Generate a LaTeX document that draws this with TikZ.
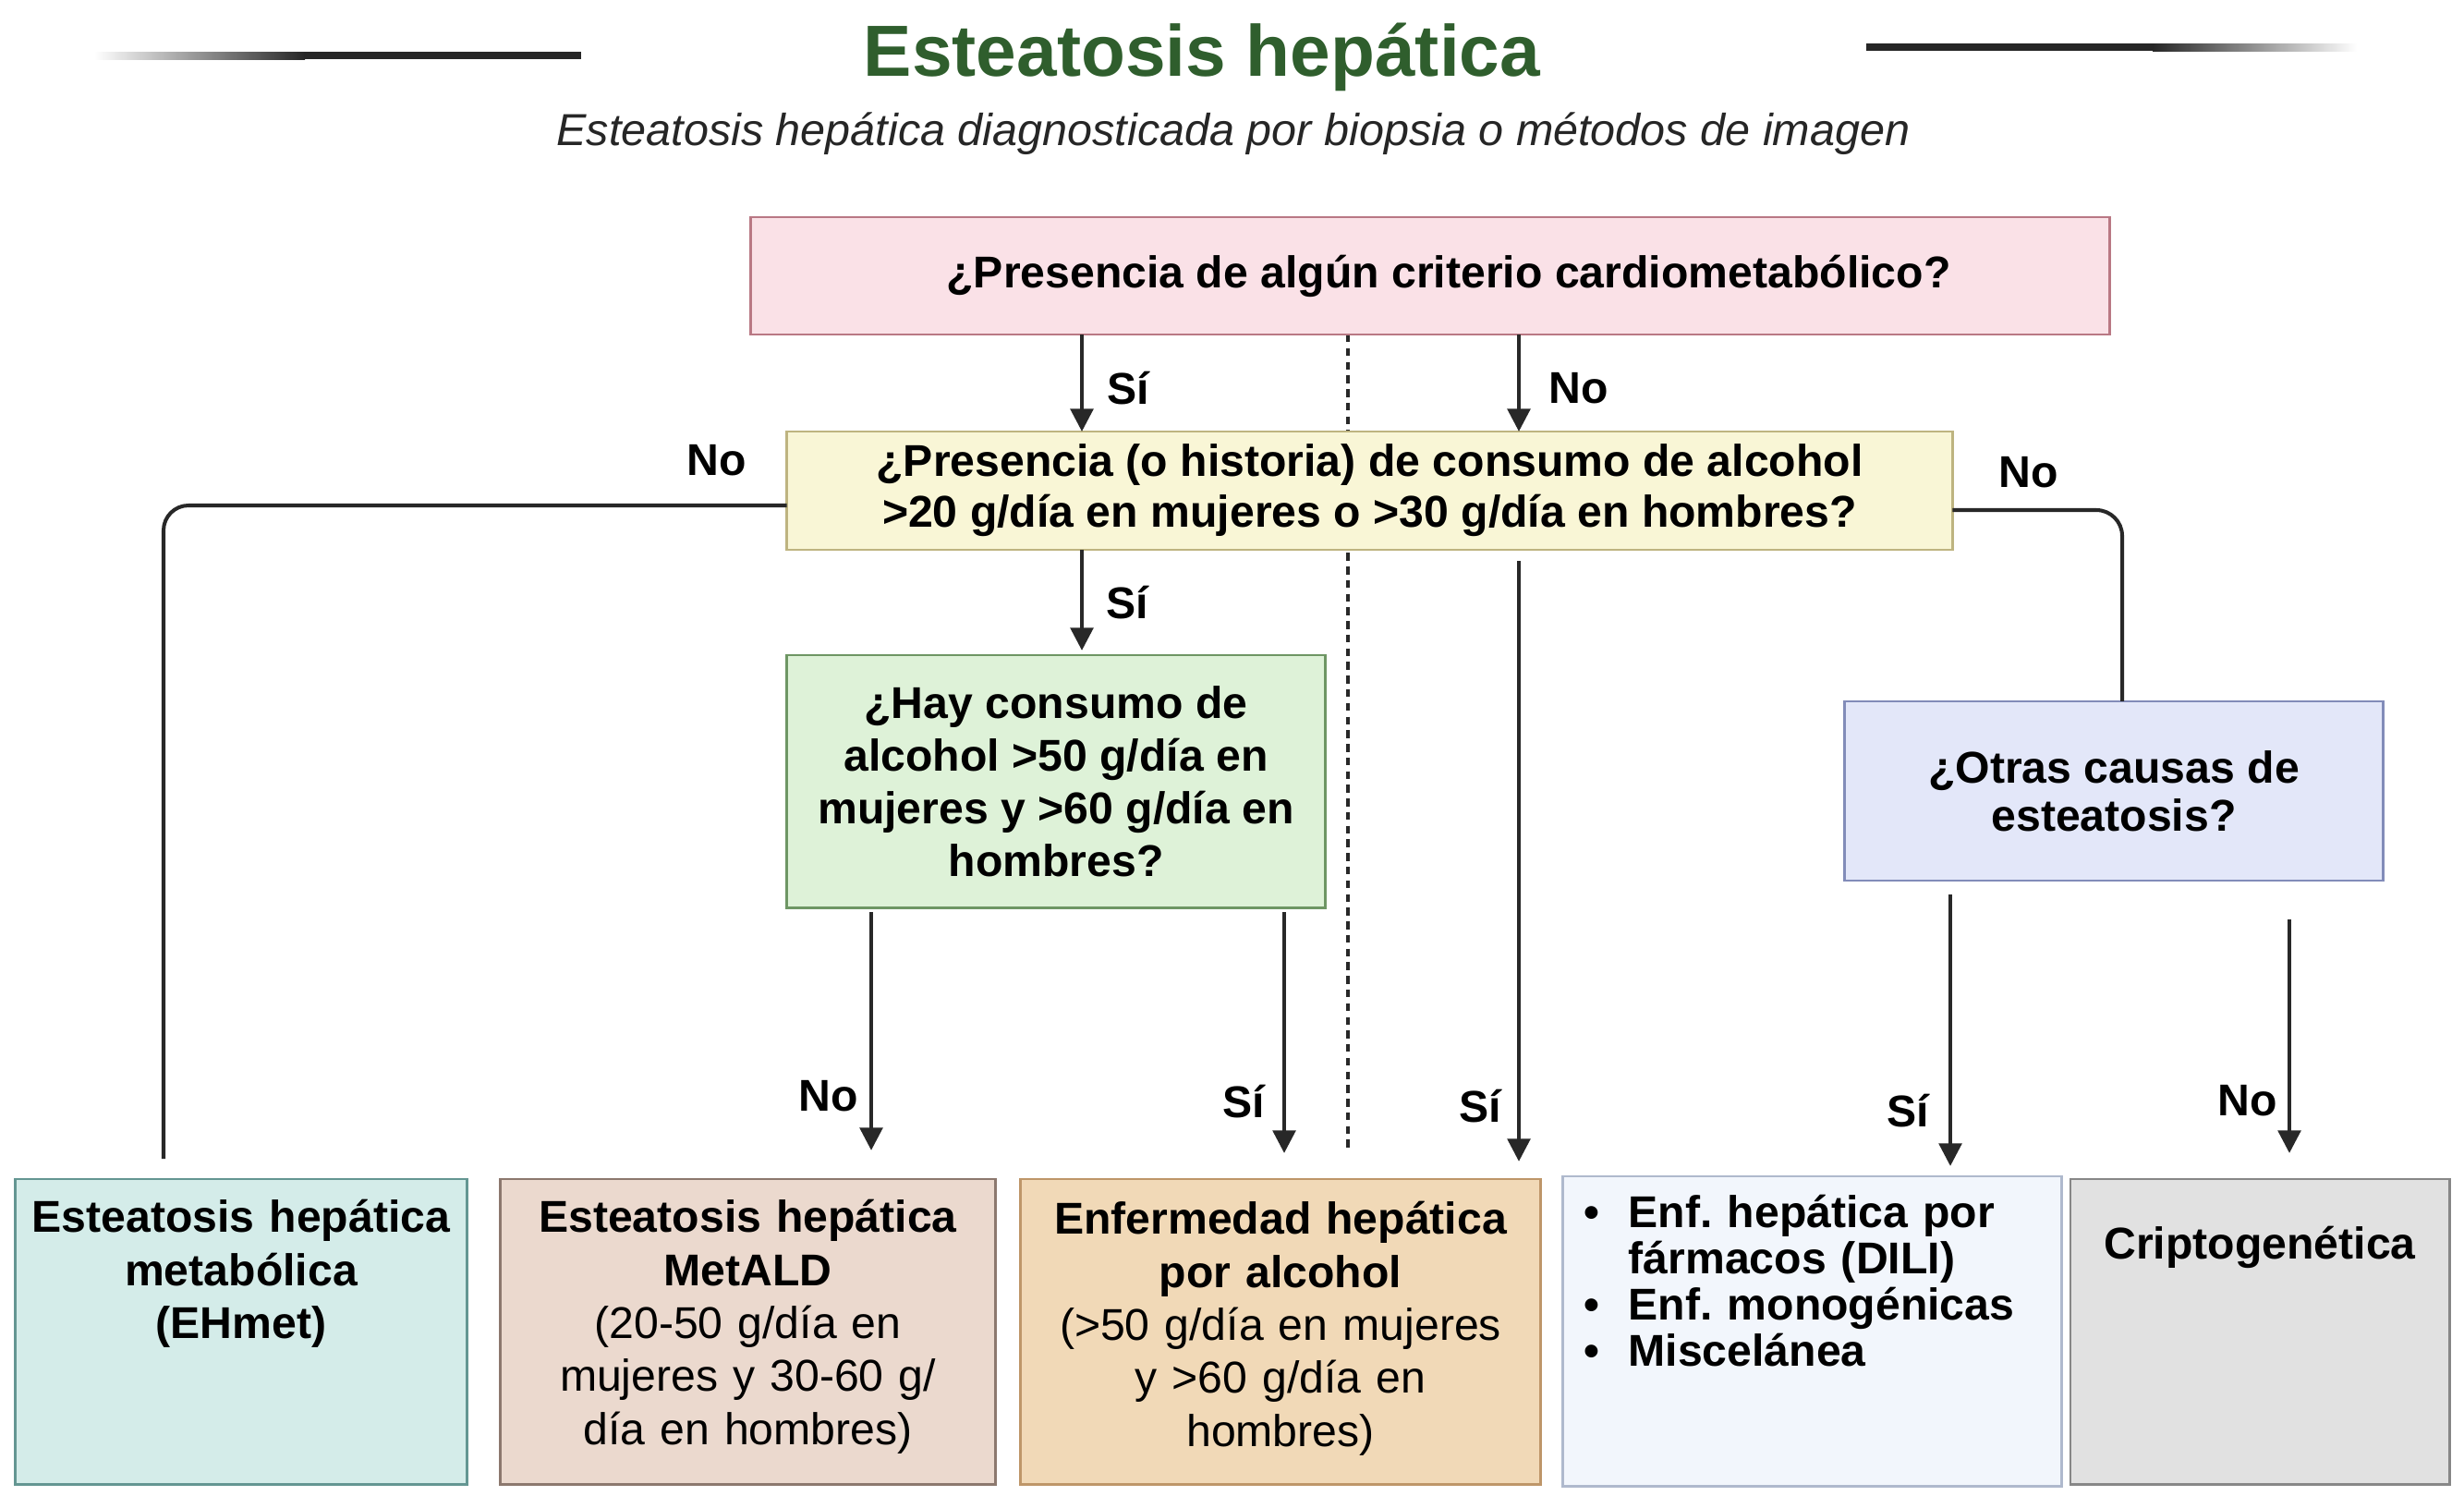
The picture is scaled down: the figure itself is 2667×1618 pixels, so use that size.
\documentclass[tikz,border=0pt]{standalone}
\usepackage{fontspec}
\setmainfont{Liberation Sans}
\usetikzlibrary{arrows.meta,calc}
\definecolor{ttl}{RGB}{47,94,45}
\definecolor{linec}{RGB}{40,40,40}
\definecolor{pinkf}{RGB}{250,225,231}\definecolor{pinkd}{RGB}{185,120,132}
\definecolor{yelf}{RGB}{249,246,214}\definecolor{yeld}{RGB}{190,180,128}
\definecolor{grnf}{RGB}{222,242,216}\definecolor{grnd}{RGB}{110,150,100}
\definecolor{bluf}{RGB}{227,231,249}\definecolor{blud}{RGB}{130,140,185}
\definecolor{tealf}{RGB}{212,236,233}\definecolor{teald}{RGB}{100,150,146}
\definecolor{tanf}{RGB}{235,217,206}\definecolor{tand}{RGB}{140,120,110}
\definecolor{orf}{RGB}{241,217,183}\definecolor{ord}{RGB}{190,150,105}
\definecolor{ltf}{RGB}{242,246,252}\definecolor{ltd}{RGB}{175,185,205}
\definecolor{gryf}{RGB}{225,225,225}\definecolor{gryd}{RGB}{135,135,135}
\frenchspacing
\begin{document}
\begin{tikzpicture}[x=0.01cm,y=-0.01cm,
  box/.style={draw, line width=0.8pt, inner sep=0pt, outer sep=0pt, align=center},
  bfont/.style={font=\frenchspacing\bfseries\fontsize{13.7}{#1}\selectfont},
  txt/.style={inner sep=0pt, align=center},
  lbl/.style={inner sep=0pt, font=\bfseries\fontsize{13.7}{16}\selectfont},
  conn/.style={line width=1.15pt, draw=linec},
  arr/.style={conn, -{Triangle[width=7pt,length=7pt]}},
]
\useasboundingbox (0,0) rectangle (2667,1618);

% title decoration lines
\shade[left color=white, right color=black!85] (102,56) rectangle (330,64);
\fill[black!85] (329,56) rectangle (629,64);
\fill[black!85] (2020,47) rectangle (2331,55);
\shade[left color=black!85, right color=white] (2330,47) rectangle (2551,55);

\node[anchor=base, inner sep=0pt, text=ttl, font=\bfseries\fontsize{22.3}{26}\selectfont] (title) at (1301,82) {Esteatosis hepática};
\node[anchor=base, inner sep=0pt, text=black!85, font=\itshape\fontsize{13.8}{16}\selectfont] (sub) at (1335,157) {Esteatosis hepática diagnosticada por biopsia o métodos de imagen};

% column coordinates
\coordinate (xA) at (1171,0);
\coordinate (xB) at (1644,0);
\coordinate (xL) at (177,0);
\coordinate (xR) at (2297,0);
\coordinate (xG1) at (943,0);
\coordinate (xG2) at (1390,0);
\coordinate (xD) at (1459,0);
\coordinate (xB1) at (2111,0);
\coordinate (xB2) at (2478,0);
\coordinate (yL) at (0,547);
\coordinate (yR) at (0,552);
\coordinate (lEnd) at (177,1254);
\coordinate (dEnd) at (1459,1245);

% dashed separator (behind boxes)
\coordinate (dStart) at (1459,362);
\draw[line width=1.3pt, draw=linec, dash pattern=on 2.4pt off 1.8pt] (dStart) -- (dEnd);

% boxes
\node[box, fill=pinkf, draw=pinkd, minimum width=14.70cm, minimum height=1.27cm, bfont=16] (pink) at (1548,298.5) {\hspace{0.4cm}¿Presencia de algún criterio cardiometabólico?};
\node[box, fill=yelf, draw=yeld, minimum width=12.61cm, minimum height=1.28cm, bfont=15.65] (yellow) at (1482.5,531) {¿Presencia (o historia) de consumo de alcohol\\>20 g/día en mujeres o >30 g/día en hombres?};
\node[box, fill=grnf, draw=grnd, minimum width=5.82cm, minimum height=2.73cm, bfont=16.2] (green) at (1143,845.5) {¿Hay consumo de\\alcohol >50 g/día en\\mujeres y >60 g/día en\\hombres?};
\node[box, fill=bluf, draw=blud, minimum width=5.82cm, minimum height=1.94cm, bfont=14.8] (blue) at (2288,856) {¿Otras causas de\\esteatosis?};

\node[box, fill=tealf, draw=teald, minimum width=4.88cm, minimum height=3.30cm] (teal) at (261,1441) {};
\node[box, fill=tanf, draw=tand, minimum width=5.35cm, minimum height=3.30cm] (tan) at (809.5,1441) {};
\node[box, fill=orf, draw=ord, minimum width=5.62cm, minimum height=3.30cm] (orange) at (1386,1441) {};
\node[box, fill=ltf, draw=ltd, minimum width=5.39cm, minimum height=3.35cm] (light) at (1961.5,1440.5) {};
\node[box, fill=gryf, draw=gryd, minimum width=4.10cm, minimum height=3.30cm] (grey) at (2446,1441) {};

\node[txt, anchor=north, text width=4.80cm, bfont=16.3] (tealt) at (261,1285) {\rule{0pt}{1em}Esteatosis hepática\\metabólica\\(EHmet)};
\node[txt, anchor=north, text width=5.25cm, bfont=16.3] (tant) at (809.5,1285) {\rule{0pt}{1em}Esteatosis hepática\\MetALD\\\mdseries (20-50 g/día en\\mujeres y 30-60 g/\\día en hombres)};
\node[txt, anchor=north, text width=5.50cm, bfont=16.3] (oranget) at (1386,1287) {\rule{0pt}{1em}Enfermedad hepática\\por alcohol\\\mdseries (>50 g/día en mujeres\\y >60 g/día en\\hombres)};
\node[txt, anchor=north west, align=left, text width=4.60cm, bfont=14.2] (lightt) at (1762,1280) {\rule{0pt}{1em}\llap{•\hspace{9pt}}Enf. hepática por\\\leavevmode fármacos (DILI)\\\leavevmode\llap{•\hspace{9pt}}Enf. monogénicas\\\leavevmode\llap{•\hspace{9pt}}Miscelánea};
\node[txt, anchor=north, text width=4.00cm, bfont=16.3] (greyt) at (2446,1314) {\rule{0pt}{1em}Criptogenética};

% connectors
\draw[arr] (pink.south -| xA) -- (yellow.north -| xA);
\draw[arr] (pink.south -| xB) -- (yellow.north -| xB);
\draw[conn, rounded corners=0.27cm] (yellow.west |- yL) -- (xL |- yL) -- (lEnd);
\draw[conn, rounded corners=0.28cm] (yellow.east |- yR) -- (xR |- yR) -- (blue.north -| xR);
\draw[arr, shorten >=0.05cm] (yellow.south -| xA) -- (green.north -| xA);
\draw[arr, shorten <=0.12cm, shorten >=0.19cm] (yellow.south -| xB) -- (orange.north -| xB);
\draw[arr, shorten <=0.05cm, shorten >=0.31cm] (green.south -| xG1) -- (tan.north -| xG1);
\draw[arr, shorten <=0.05cm, shorten >=0.28cm] (green.south -| xG2) -- (orange.north -| xG2);
\draw[arr, shorten <=0.15cm, shorten >=0.11cm] (blue.south -| xB1) -- (light.north -| xB1);
\draw[arr, shorten <=0.42cm, shorten >=0.28cm] (blue.south -| xB2) -- (grey.north -| xB2);

% labels
\node[lbl] (l1) at (1221,420) {Sí};
\node[lbl] (l2) at (1709,420) {No};
\node[lbl] (l3) at (776,498) {No};
\node[lbl] (l4) at (2196,511) {No};
\node[lbl] (l5) at (1220,652) {Sí};
\node[lbl] (l6) at (897,1186) {No};
\node[lbl] (l7) at (1346,1192) {Sí};
\node[lbl] (l8) at (1602,1197) {Sí};
\node[lbl] (l9) at (2065,1202) {Sí};
\node[lbl] (l10) at (2433,1191) {No};
\end{tikzpicture}
\end{document}
